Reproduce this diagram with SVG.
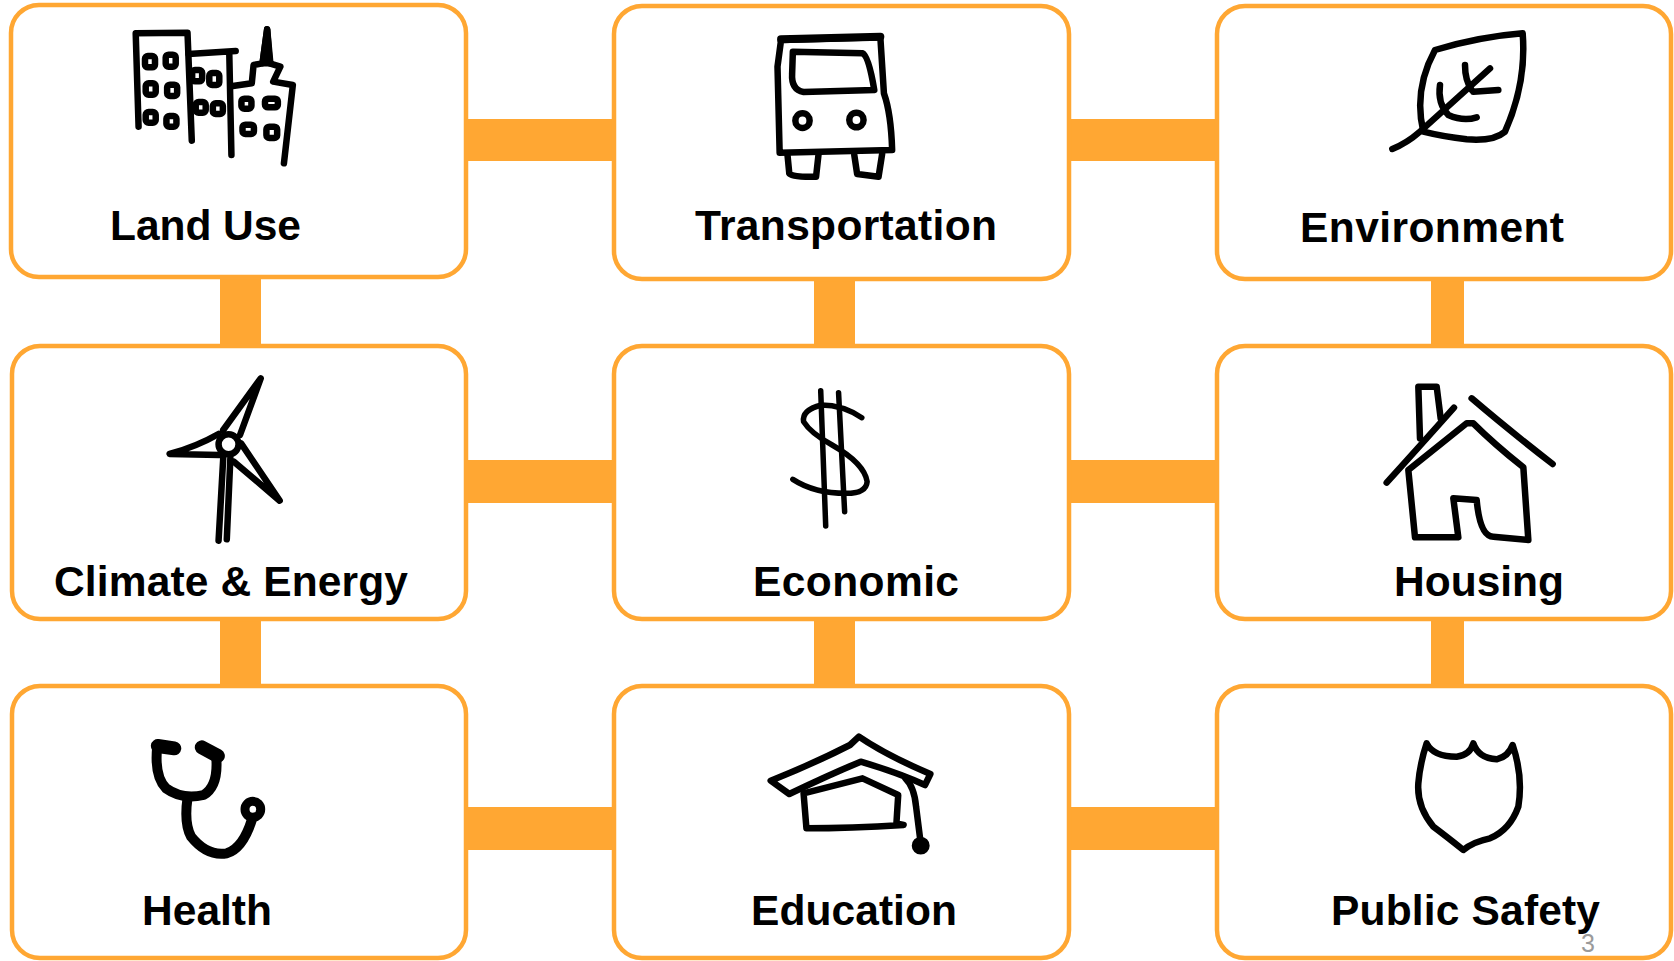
<svg xmlns="http://www.w3.org/2000/svg" width="1674" height="961" viewBox="0 0 1674 961">
<style>
.box{fill:#fff;stroke:#ffa733;stroke-width:4.5}
.link{fill:#ffa733}
.label{font-family:"Liberation Sans",Arial,sans-serif;font-weight:700;font-size:42.5px;fill:#000}
.page{font-family:"Liberation Sans",Arial,sans-serif;font-size:25px;fill:#9a9a9a}
.ink,.ink *{fill:none;stroke:#000;stroke-width:6.5;stroke-linecap:round;stroke-linejoin:round;vector-effect:non-scaling-stroke}
.ink .win{stroke-width:7;fill:#fff}
.ink .thin{stroke-width:5.5}
.ink .solid{fill:#000}
.ink .thick{stroke-width:10}
.ink .heavy{stroke-width:14;stroke-linecap:round}
</style>
<rect width="1674" height="961" fill="#fff"/>
<g id="connectors">
<rect class="link" x="464" y="119" width="152" height="42"/>
<rect class="link" x="1067" y="119" width="152" height="42"/>
<rect class="link" x="464" y="460" width="152" height="43"/>
<rect class="link" x="1067" y="460" width="152" height="43"/>
<rect class="link" x="464" y="807" width="152" height="43"/>
<rect class="link" x="1067" y="807" width="152" height="43"/>
<rect class="link" x="220" y="275" width="41" height="73"/>
<rect class="link" x="814" y="277" width="41" height="71"/>
<rect class="link" x="1431" y="277" width="33" height="71"/>
<rect class="link" x="220" y="617" width="41" height="71"/>
<rect class="link" x="814" y="617" width="41" height="71"/>
<rect class="link" x="1431" y="617" width="33" height="71"/>
</g>
<g id="node-land-use">
<rect class="box" x="11" y="5" width="455" height="272" rx="28"/>
<g class="ink" transform="scale(.35714 .33333)">
<path d="M388 380L380 100L525 98L537 422"/>
<path d="M528 162L660 153M642 160L648 465"/>
<path d="M652 258L705 250L710 195L735 190L748 88L755 190L785 200L765 245L820 255L795 490"/>
<path class="solid" d="M735 190L748 88L757 190Z"/>
<g class="win">
<rect x="406" y="168" width="28" height="34" rx="8"/><rect x="464" y="164" width="28" height="36" rx="8"/>
<rect x="408" y="250" width="28" height="34" rx="8"/><rect x="468" y="254" width="28" height="34" rx="8"/>
<rect x="408" y="336" width="28" height="32" rx="8"/><rect x="466" y="348" width="28" height="32" rx="8"/>
<rect x="538" y="210" width="28" height="34" rx="8"/><rect x="586" y="219" width="28" height="36" rx="8"/>
<rect x="548" y="306" width="28" height="32" rx="8"/><rect x="596" y="310" width="28" height="32" rx="8"/>
<rect x="676" y="296" width="28" height="30" rx="8"/><rect x="742" y="296" width="36" height="26" rx="8"/>
<rect x="679" y="374" width="32" height="28" rx="8"/><rect x="746" y="380" width="30" height="34" rx="8"/>
</g>
</g>
<text class="label" x="110" y="239.5" textLength="191">Land Use</text>
</g>
<g id="node-transportation">
<rect class="box" x="614" y="6" width="455" height="273" rx="28"/>
<g class="ink" transform="translate(600 0) scale(.35714 .33333)">
<path d="M503 458L497 200L507 120L785 112L795 280Q815 340 818 450Z"/>
<path class="thick" d="M507 118L785 110" style="stroke-width:8"/>
<path d="M540 155L735 160Q752 168 768 270L570 276Q535 270 538 220Z"/>
<ellipse cx="567" cy="362" rx="20" ry="22"/><ellipse cx="718" cy="360" rx="20" ry="22"/>
<path d="M525 465L530 520Q535 532 605 530L612 462M712 465L720 522L780 530L790 462"/>
</g>
<text class="label" x="695" y="239.5" textLength="302">Transportation</text>
</g>
<g id="node-environment">
<rect class="box" x="1217" y="6" width="454" height="273" rx="28"/>
<g class="ink" transform="translate(1200 0) scale(.33333)">
<path d="M705 150Q840 110 968 100Q980 250 915 395Q880 425 800 418Q730 410 670 395Q640 270 705 150Z"/>
<path d="M577 447Q620 430 660 395L870 205M795 195Q795 240 815 270M820 275L895 270M720 255Q712 310 745 345Q790 365 830 352"/>
</g>
<text class="label" x="1300" y="241.5" textLength="264">Environment</text>
</g>
<g id="node-climate-energy">
<rect class="box" x="12" y="346" width="454" height="273" rx="28"/>
<g class="ink" transform="translate(0 330) scale(.35714 .33333)">
<ellipse cx="640" cy="343" rx="28" ry="30"/>
<path d="M625 300L730 145L672 315M612 312Q550 350 475 372L615 375M675 340L783 512L655 395"/>
<path d="M625 385L612 632M645 385L635 628"/>
</g>
<text class="label" x="54" y="595.5" textLength="354">Climate &amp; Energy</text>
</g>
<g id="node-economic">
<rect class="box" x="614" y="346" width="455" height="273" rx="28"/>
<g class="ink" transform="translate(600 330) scale(.35714 .33333)">
<path class="thin" d="M733 263Q680 225 620 225Q565 240 570 275Q590 310 650 345Q740 400 748 455Q745 490 690 490Q600 490 540 448"/>
<path class="thin" d="M618 182L632 588M668 188L685 545"/>
</g>
<text class="label" x="753" y="595.5" textLength="206">Economic</text>
</g>
<g id="node-housing">
<rect class="box" x="1217" y="346" width="454" height="273" rx="28"/>
<g class="ink" transform="translate(1200 330) scale(.33333)">
<path d="M660 325L655 170L710 170L722 265"/>
<path d="M560 458Q640 370 762 233M815 205Q920 295 1058 402"/>
<path d="M625 420L800 280L820 280Q880 340 970 412L985 630L880 620Q840 620 830 510L760 505L775 622L645 622Z"/>
</g>
<text class="label" x="1394" y="595.5" textLength="170">Housing</text>
</g>
<g id="node-health">
<rect class="box" x="12" y="686" width="454" height="272" rx="28"/>
<g class="ink" transform="translate(0 660) scale(.35714 .33333)">
<path class="thick" d="M440 262Q432 350 465 385Q510 420 570 405Q610 380 606 300"/>
<path class="thick" d="M525 415Q515 490 535 530Q580 590 635 580Q680 565 705 480"/>
<path class="heavy" d="M442 258L488 265M565 262L610 288"/>
<ellipse cx="708" cy="448" rx="22" ry="24" style="stroke-width:9"/>
</g>
<text class="label" x="142" y="924.5" textLength="130">Health</text>
</g>
<g id="node-education">
<rect class="box" x="614" y="686" width="455" height="272" rx="28"/>
<g class="ink" transform="translate(600 660) scale(.35714 .33333)">
<path d="M478 362Q600 310 700 255L725 230Q800 285 925 342L910 375Q840 340 730 305Q640 345 530 402Z"/>
<path d="M570 400L735 355L835 405L830 490L850 495Q700 505 578 505Z"/>
<path d="M855 355Q880 380 885 440L898 550"/>
<ellipse class="solid" cx="898" cy="557" rx="16" ry="17"/>
</g>
<text class="label" x="751" y="924.5" textLength="206">Education</text>
</g>
<g id="node-public-safety">
<rect class="box" x="1217" y="686" width="454" height="272" rx="28"/>
<g class="ink" transform="translate(1200 660) scale(.33333)">
<path d="M680 250Q700 290 770 290Q810 285 820 250Q835 295 890 298Q925 290 938 255Q970 350 955 440Q930 510 870 535Q820 545 790 570Q740 530 700 500Q650 440 655 370Q660 310 680 250Z"/>
</g>
<text class="label" x="1331" y="924.5" textLength="269">Public Safety</text>
</g>
<text class="page" x="1581" y="952">3</text>
</svg>
